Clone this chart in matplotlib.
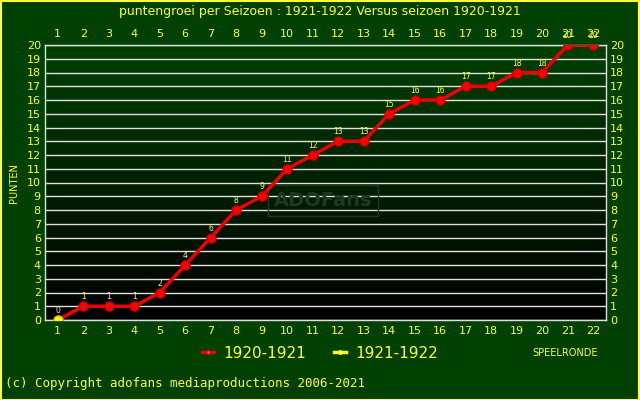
import numpy as np
import matplotlib
matplotlib.use("Agg")
import matplotlib.pyplot as plt
from matplotlib.lines import Line2D
from matplotlib.colors import LinearSegmentedColormap

rounds = list(range(1, 23))
pts_1920 = [0, 1, 1, 1, 2, 4, 6, 8, 9, 11, 12, 13, 13, 15, 16, 16, 17, 17, 18, 18, 20, 20]
rounds_1921 = [1]
pts_1921 = [0]
yticks = list(range(0, 21))

YEL = "#ffff33"
BG = "#004000"

fig = plt.figure(figsize=(6.4, 4.0), dpi=100, facecolor=BG)
ax = fig.add_axes([45/640, 1-320/400, (606-45)/640, (320-45)/400])

grad = np.linspace(0, 1, 256).reshape(-1, 1)
cm = LinearSegmentedColormap.from_list("g", ["#000000", "#004000"])
ax.imshow(grad, extent=[0.5, 22.5, 0, 20], origin="lower", aspect="auto", cmap=cm, zorder=0)

ax.set_xlim(0.5, 22.5)
ax.set_ylim(0, 20)
for y in yticks:
    ax.axhline(y, color="#e0e0e0", lw=1, zorder=1)

ax.text(11.4, 8.7, "ADOFans", color="#1e3a1e", fontsize=14, fontweight="bold",
        ha="center", va="center", zorder=1,
        bbox=dict(boxstyle="square,pad=0.3", fc="none", ec="#1e3a1e", lw=1))

ax.plot(rounds, pts_1920, color="#ee0000", lw=2.5, marker="o", ms=6.5,
        mfc="#ff0000", mec="#cc0000", zorder=3)
ax.plot(rounds_1921, pts_1921, color="#ffff00", lw=2.5, marker="o", ms=6.5,
        mfc="#ffff00", mec="#cccc00", zorder=4)

for x, y in zip(rounds, pts_1920):
    ax.text(x, y + 0.35, str(y), color=YEL, fontsize=5.5, ha="center", va="bottom", zorder=5)

ax.set_xticks(rounds)
ax.set_yticks(yticks)
ax.tick_params(axis="both", colors=YEL, labelsize=8, length=0, pad=4,
               top=False, right=False, labeltop=True, labelright=True)
ax.tick_params(axis="y", pad=3)
for s in ax.spines.values():
    s.set_color("#e0e0e0")
    s.set_linewidth(1)

fig.text(320/640, 1-12/400, "puntengroei per Seizoen : 1921-1922 Versus seizoen 1920-1921",
         color=YEL, fontsize=9, ha="center", va="center")
fig.text(14/640, 1-183/400, "PUNTEN", color=YEL, fontsize=7, rotation=90, ha="center", va="center")
fig.text(565/640, 1-353/400, "SPEELRONDE", color=YEL, fontsize=7, ha="center", va="center")
fig.text(5/640, 1-384/400, "(c) Copyright adofans mediaproductions 2006-2021",
         color=YEL, fontsize=9, family="DejaVu Sans Mono", ha="left", va="center")

handles = [Line2D([], [], color="#ee0000", lw=2.5, marker="o", ms=2.5, mfc="#ff8888"),
           Line2D([], [], color="#ffff00", lw=2.5, marker="o", ms=2.5, mfc="#ffffff")]
fig.legend(handles, ["1920-1921", "1921-1922"], loc="center", bbox_to_anchor=(320/640, 1-353/400),
           ncol=2, frameon=False, labelcolor=YEL, fontsize=11, handlelength=0.8,
           handletextpad=0.6, columnspacing=1.8)

fig.patches.append(plt.Rectangle((0.001, 0.001), 0.997, 0.997, transform=fig.transFigure,
                                 fill=False, edgecolor=YEL, lw=1.5))

fig.savefig("out.png", dpi=100, facecolor=BG)
